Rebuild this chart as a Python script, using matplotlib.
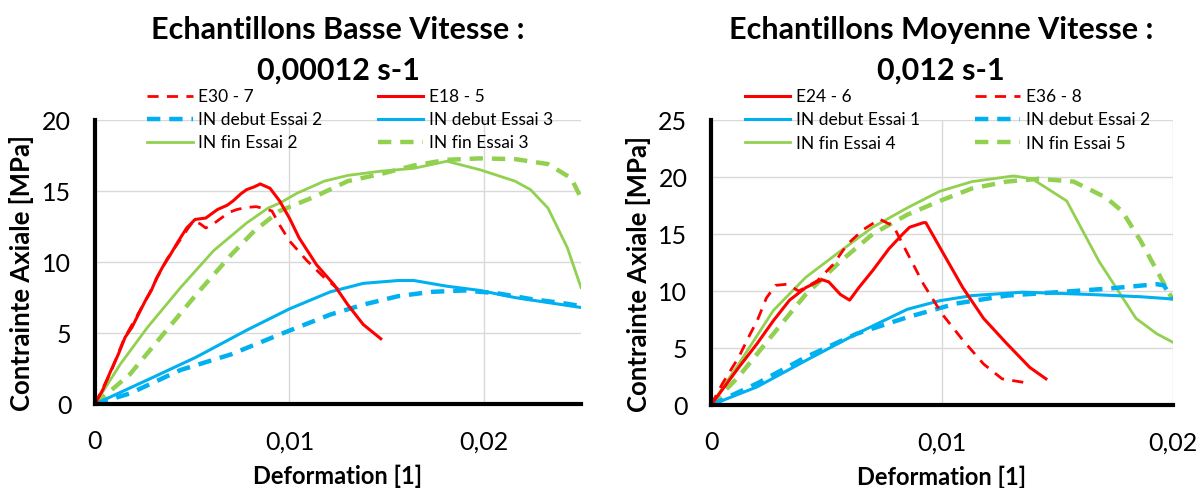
import matplotlib
matplotlib.use("Agg")
import matplotlib.pyplot as plt
from matplotlib.legend import Legend

plt.rcParams['font.family'] = ['Lato', 'DejaVu Sans']

RED = '#FF0000'
BLUE = '#00B0F0'
GREEN = '#92D050'

# -----------------------
# Basse vitesse (0,00012 s-1)
# -----------------------
e30_7_strain = [0, 0.0008, 0.0015, 0.0022, 0.0028, 0.0032, 0.0037, 0.0042, 0.00455, 0.0048,
                0.00507, 0.0054, 0.0057, 0.0061, 0.0064, 0.0069, 0.0073, 0.0078, 0.0083, 0.0086,
                0.0091, 0.0095, 0.01, 0.0109, 0.0118, 0.0125]
e30_7_stress = [0, 2.2, 4.6, 6.3, 7.8, 8.9, 10.2, 11.2, 11.9, 12.4,
                12.9, 12.7, 12.4, 12.7, 13.0, 13.5, 13.7, 13.85, 13.9, 13.8,
                13.6, 12.6, 11.5, 10.1, 8.9, 8.1]

e18_5_strain = [0, 0.0004, 0.0008, 0.0012, 0.00155, 0.0019, 0.00223, 0.0026, 0.0029, 0.00318,
                0.0035, 0.00387, 0.0043, 0.00472, 0.00515, 0.0057, 0.0063, 0.0068, 0.0071, 0.0075,
                0.0078, 0.0082, 0.0085, 0.009, 0.0095, 0.01, 0.0105, 0.0114, 0.0123, 0.013,
                0.0138, 0.0147]
e18_5_stress = [0, 1.0, 2.3, 3.5, 4.7, 5.4, 6.3, 7.3, 8.0, 8.9,
                9.7, 10.5, 11.5, 12.4, 13.0, 13.1, 13.7, 14.0, 14.3, 14.8,
                15.1, 15.3, 15.5, 15.2, 14.3, 13.1, 11.7, 9.8, 8.4, 7.0,
                5.6, 4.6]

in_debut_2_strain = [0, 0.0018, 0.0044, 0.007, 0.0095, 0.0121, 0.0138, 0.0156, 0.0173, 0.019,
                     0.0207, 0.0224, 0.0241, 0.025]
in_debut_2_stress = [0, 0.75, 2.4, 3.5, 4.9, 6.3, 7.0, 7.6, 7.9, 8.0,
                     7.8, 7.4, 7.1, 6.9]

in_debut_3_strain = [0, 0.0027, 0.0052, 0.0078, 0.01, 0.0121, 0.0138, 0.0156, 0.0164, 0.0181,
                     0.0198, 0.0216, 0.0233, 0.025]
in_debut_3_stress = [0, 1.7, 3.3, 5.2, 6.7, 7.9, 8.5, 8.7, 8.7, 8.3,
                     8.0, 7.5, 7.15, 6.8]

in_fin_2_strain = [0, 0.0013, 0.0027, 0.0044, 0.0061, 0.0078, 0.0089, 0.0095, 0.0104, 0.0118,
                   0.013, 0.0147, 0.0164, 0.0181, 0.0198, 0.0216, 0.0224, 0.0233, 0.0243, 0.025]
in_fin_2_stress = [0, 2.8, 5.4, 8.2, 10.8, 12.75, 13.8, 14.15, 14.85, 15.7,
                   16.1, 16.4, 16.6, 17.1, 16.5, 15.7, 15.1, 13.8, 11.0, 8.2]

in_fin_3_strain = [0, 0.0018, 0.0035, 0.0052, 0.007, 0.0082, 0.0095, 0.0113, 0.013, 0.0147,
                   0.0164, 0.0181, 0.0198, 0.0216, 0.0233, 0.0245, 0.025]
in_fin_3_stress = [0, 2.1, 4.9, 7.7, 10.5, 12.2, 13.6, 14.6, 15.7, 16.2,
                   16.8, 17.2, 17.3, 17.25, 16.9, 15.9, 14.5]

# -----------------------
# Moyenne vitesse (0,012 s-1)
# -----------------------
e24_6_strain = [0, 0.0012, 0.002, 0.0027, 0.0034, 0.0041, 0.0048, 0.0051, 0.0056, 0.006,
                0.0064, 0.007, 0.0077, 0.0083, 0.0086, 0.0092, 0.0093, 0.01, 0.0109, 0.0118,
                0.0128, 0.0138, 0.0145]
e24_6_stress = [0, 3.3, 5.4, 7.4, 9.2, 10.3, 11.0, 10.8, 9.7, 9.2,
                10.3, 11.8, 13.7, 15.0, 15.6, 16.0, 16.0, 13.5, 10.3, 7.6,
                5.4, 3.3, 2.3]

e36_8_strain = [0, 0.0005, 0.0012, 0.0017, 0.002, 0.0024, 0.0028, 0.0033, 0.0038, 0.0046,
                0.0053, 0.0059, 0.0066, 0.0073, 0.0079, 0.0083, 0.0092, 0.01, 0.0109, 0.0118,
                0.0126, 0.0138]
e36_8_stress = [0, 1.9, 4.2, 6.25, 7.4, 9.4, 10.5, 10.6, 10.0, 10.9,
                12.35, 14.1, 15.4, 16.3, 15.7, 14.1, 10.6, 8.0, 5.7, 3.6,
                2.3, 1.9]

in_debut_1_strain = [0, 0.002, 0.0041, 0.0063, 0.0085, 0.0099, 0.0113, 0.0135, 0.0164, 0.0186, 0.02]
in_debut_1_stress = [0, 1.6, 3.9, 6.25, 8.4, 9.15, 9.6, 9.9, 9.7, 9.5, 9.3]

in_debut_2m_strain = [0, 0.002, 0.0041, 0.0063, 0.0085, 0.0106, 0.0128, 0.015, 0.0171, 0.0193,
                      0.0196, 0.02]
in_debut_2m_stress = [0, 1.9, 4.2, 6.25, 7.7, 8.9, 9.6, 9.9, 10.2, 10.6,
                      10.5, 9.3]

in_fin_4_strain = [0, 0.0012, 0.0027, 0.0041, 0.0056, 0.007, 0.0085, 0.0099, 0.0113, 0.0131,
                   0.0139, 0.0154, 0.0168, 0.0184, 0.0193, 0.02]
in_fin_4_stress = [0, 3.6, 8.3, 11.2, 13.5, 15.6, 17.3, 18.75, 19.6, 20.1,
                   19.85, 17.9, 12.6, 7.6, 6.25, 5.5]

in_fin_5_strain = [0, 0.0012, 0.0027, 0.0041, 0.0056, 0.007, 0.0085, 0.0099, 0.0113, 0.0128,
                   0.0142, 0.0157, 0.0171, 0.0178, 0.0186, 0.0193, 0.02]
in_fin_5_stress = [0, 2.5, 6.25, 9.7, 12.6, 15.0, 16.7, 17.9, 19.0, 19.6,
                   19.85, 19.6, 18.2, 17.0, 14.4, 11.8, 9.2]

x_ticks = [0, 0.01, 0.02]
x_tick_labels = ['0', '0,01', '0,02']
y_ticks_left = [0, 5, 10, 15, 20]
y_ticks_right = [0, 5, 10, 15, 20, 25]

DASH_BIG = (3, 2)
DASH_RED = (4, 3)


def style_axes(ax, xmax, ymax, yticks, ylabel_x):
    ax.set_xlim(0, xmax)
    ax.set_ylim(0, ymax)
    ax.set_xticks(x_ticks)
    ax.set_xticklabels(x_tick_labels)
    ax.set_yticks(yticks)
    ax.grid(True, color='#D9D9D9', lw=1)
    ax.set_axisbelow(True)
    for s in ['top', 'right']:
        ax.spines[s].set_visible(False)
    for s in ['left', 'bottom']:
        ax.spines[s].set_linewidth(3)
        ax.spines[s].set_color('black')
    ax.tick_params(axis='x', length=0, pad=19, labelsize=18)
    ax.tick_params(axis='y', length=0, pad=17, labelsize=18)
    ax.set_xlabel('Deformation [1]', fontsize=17, fontweight='bold')
    ax.set_ylabel('Contrainte Axiale [MPa]', fontsize=18.5, fontweight='bold')
    ax.xaxis.set_label_coords(0.5, -0.212)
    ax.yaxis.set_label_coords(ylabel_x, 0.46)


def add_legend_column(ax, handles, labels, x, y):
    leg = Legend(ax, handles, labels, loc='upper left', bbox_to_anchor=(x, y),
                 frameon=False, fontsize=12.5, handlelength=2.6, handletextpad=0.3,
                 labelspacing=0.42, borderaxespad=0, borderpad=0)
    ax.add_artist(leg)


fig = plt.figure(figsize=(11.99, 4.88), dpi=100)
ax1 = fig.add_axes([0.0792, 0.172, 0.4054, 0.582])
ax2 = fig.add_axes([0.593, 0.170, 0.3853, 0.584])

# left chart
l_in_fin_3, = ax1.plot(in_fin_3_strain, in_fin_3_stress, color=GREEN, lw=3.2, dashes=DASH_BIG)
l_in_fin_2, = ax1.plot(in_fin_2_strain, in_fin_2_stress, color=GREEN, lw=2)
l_in_debut_2, = ax1.plot(in_debut_2_strain, in_debut_2_stress, color=BLUE, lw=3.2, dashes=DASH_BIG)
l_in_debut_3, = ax1.plot(in_debut_3_strain, in_debut_3_stress, color=BLUE, lw=2.2)
l_e30, = ax1.plot(e30_7_strain, e30_7_stress, color=RED, lw=2, dashes=DASH_RED)
l_e18, = ax1.plot(e18_5_strain, e18_5_stress, color=RED, lw=2.2)
style_axes(ax1, 0.025, 20, y_ticks_left, -0.125)

add_legend_column(ax1, [l_e30, l_in_debut_2, l_in_fin_2],
                  ['E30 - 7', 'IN debut Essai 2', 'IN fin Essai 2'], 0.108, 1.11)
add_legend_column(ax1, [l_e18, l_in_debut_3, l_in_fin_3],
                  ['E18 - 5', 'IN debut Essai 3', 'IN fin Essai 3'], 0.583, 1.11)

# right chart
m_in_fin_5, = ax2.plot(in_fin_5_strain, in_fin_5_stress, color=GREEN, lw=3.2, dashes=DASH_BIG)
m_in_fin_4, = ax2.plot(in_fin_4_strain, in_fin_4_stress, color=GREEN, lw=2)
m_in_debut_2, = ax2.plot(in_debut_2m_strain, in_debut_2m_stress, color=BLUE, lw=3.2, dashes=DASH_BIG)
m_in_debut_1, = ax2.plot(in_debut_1_strain, in_debut_1_stress, color=BLUE, lw=2.2)
m_e36, = ax2.plot(e36_8_strain, e36_8_stress, color=RED, lw=2, dashes=DASH_RED)
m_e24, = ax2.plot(e24_6_strain, e24_6_stress, color=RED, lw=2.2)
style_axes(ax2, 0.02, 25, y_ticks_right, -0.13)

add_legend_column(ax2, [m_e24, m_in_debut_1, m_in_fin_4],
                  ['E24 - 6', 'IN debut Essai 1', 'IN fin Essai 4'], 0.074, 1.109)
add_legend_column(ax2, [m_e36, m_in_debut_2, m_in_fin_5],
                  ['E36 - 8', 'IN debut Essai 2', 'IN fin Essai 5'], 0.572, 1.109)

# titles
fig.text(0.282, 0.938, 'Echantillons Basse Vitesse :', ha='center', va='center',
         fontsize=22, fontweight='bold')
fig.text(0.282, 0.856, '0,00012 s-1', ha='center', va='center', fontsize=22, fontweight='bold')
fig.text(0.785, 0.938, 'Echantillons Moyenne Vitesse :', ha='center', va='center',
         fontsize=22, fontweight='bold')
fig.text(0.785, 0.856, '0,012 s-1', ha='center', va='center', fontsize=22, fontweight='bold')

fig.savefig('out.png', dpi=100)
